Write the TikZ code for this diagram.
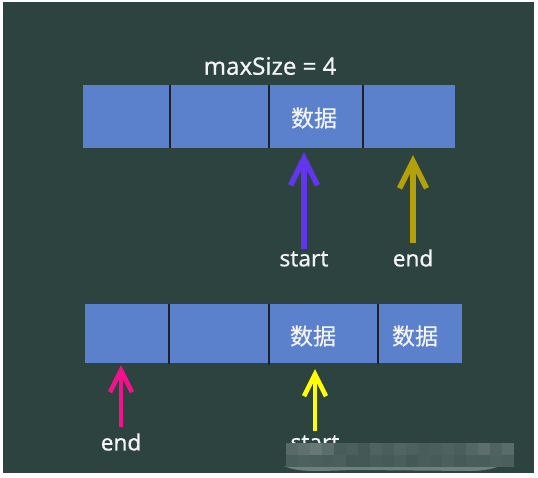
\documentclass[tikz,border=0pt]{standalone}
\usepackage{fontspec}
\setmainfont{Noto Sans}
\newfontfamily\lblfont[FakeBold=0.5]{Noto Sans}
\newfontfamily\cjkfont[FakeBold=0.4]{Noto Sans CJK SC}
\usetikzlibrary{arrows.meta,calc}
\definecolor{bg}{HTML}{2D4340}
\definecolor{cellblue}{HTML}{5B80CC}
\definecolor{divc}{HTML}{1E2224}
\definecolor{purp}{HTML}{6236EC}
\definecolor{olive}{HTML}{B4A008}
\definecolor{pinkc}{HTML}{F2128C}
\definecolor{yelc}{HTML}{FFFF00}
\definecolor{txt}{HTML}{F4F4F4}
\definecolor{mos}{HTML}{7A8A88}
\begin{document}
\begin{tikzpicture}[x=1pt,y=-1pt,
  cell/.style={fill=cellblue,draw=none,inner sep=0pt},
  divider/.style={draw=divc,line width=2pt},
  lbl/.style={text=txt,font=\lblfont\fontsize{22.5}{26}\selectfont,inner sep=0pt},
  ttl/.style={text=txt,font=\lblfont\fontsize{24}{28}\selectfont,inner sep=0pt},
  cjk/.style={text=txt,font=\cjkfont\fontsize{23}{26}\selectfont,inner sep=0pt},
  bigarr/.style={line width=5.5pt,-{Straight Barb[length=27pt,width=27pt]}},
  smallarr/.style={line width=4.5pt,-{Straight Barb[length=22pt,width=22pt]}}]
\useasboundingbox (0,0) rectangle (538,477);
\fill[white] (0,0) rectangle (538,477);
\fill[bg] (3,2) rectangle (534,473);
% title
\node[ttl] (title) at (270,66) {maxSize = 4};
% top array
\node[cell,minimum width=87pt,minimum height=63pt] (t1) at (126.5,116.5) {};
\node[cell,minimum width=99pt,minimum height=63pt] (t2) at (219.5,116.5) {};
\node[cell,minimum width=94pt,minimum height=63pt] (t3) at (316,116.5) {};
\node[cell,minimum width=92pt,minimum height=63pt] (t4) at (409,116.5) {};
\node[cjk] (t3d) at (314,118) {数据};
\draw[divider] (t1.north east) -- (t1.south east);
\draw[divider] (t2.north east) -- (t2.south east);
\draw[divider] (t3.north east) -- (t3.south east);
% top labels and arrows
\node[lbl] (ls1) at (304,259) {start};
\node[lbl] (le1) at (413,258) {end};
\draw[bigarr,purp] ($(ls1.north)+(0,-2)$) -- ($(ls1.north |- t3.south)+(0,4)$);
\draw[bigarr,olive] ($(le1.north)+(0,-6)$) -- ($(le1.north |- t4.south)+(0,7)$);
% bottom array
\node[cell,minimum width=84pt,minimum height=59pt] (b1) at (127,333.5) {};
\node[cell,minimum width=100pt,minimum height=59pt] (b2) at (219,333.5) {};
\node[cell,minimum width=109pt,minimum height=59pt] (b3) at (323.5,333.5) {};
\node[cell,minimum width=84pt,minimum height=59pt] (b4) at (420,333.5) {};
\node[cjk] (b3d) at (313,336) {数据};
\node[cjk] (b4d) at (415,336) {数据};
\draw[divider] (b1.north east) -- ($(b1.south east)+(0,1)$);
\draw[divider] (b2.north east) -- ($(b2.south east)+(0,2)$);
\draw[divider] (b3.north east) -- ($(b3.south east)+(0,1)$);
% bottom labels and arrows
\node[lbl] (le2) at (121,442) {end};
\node[lbl] (ls2) at (315,443) {start};
\draw[smallarr,pinkc] ($(le2.north)+(0,-6)$) -- ($(le2.north |- b1.south)+(0,2)$);
\draw[smallarr,yelc] ($(ls2.north)+(0,-4)$) -- ($(ls2.north |- b3.south)+(0,6)$);
% pixelated patch
\fill[mos!85!bg] (284,466) .. controls (300,474) and (330,470) .. (360,470) -- (470,471) .. controls (485,471) and (495,468) .. (500,466) -- cycle;
\foreach \c [count=\i from 0] in {55,65,75,60,35,40,30,45,38,48,42,36,40,44,38,50,62,45,58} {
  \fill[mos!\c!bg] ({286+12*\i},443) rectangle ({298+12*\i},455);
}
\foreach \c [count=\i from 0] in {38,42,40,36,40,28,30,35,32,38,30,36,34,40,33,38,36,42,40} {
  \fill[mos!\c!bg] ({286+12*\i},455) rectangle ({298+12*\i},467);
}
\end{tikzpicture}
\end{document}
